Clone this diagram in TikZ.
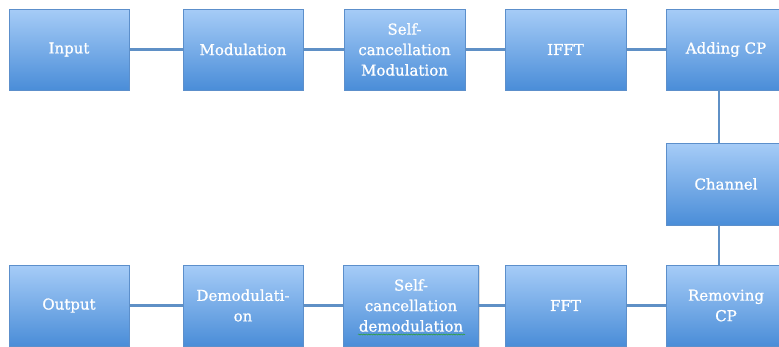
\documentclass[tikz,border=0pt]{standalone}
\usepackage{fontspec}
\setmainfont{DejaVu Serif}
\newfontfamily\boxfont{DejaVu Serif}[FakeBold=0.9]
\usetikzlibrary{shadows,decorations.pathmorphing}
\definecolor{boxtop}{HTML}{A6CCF7}
\definecolor{boxbot}{HTML}{4A8DD8}
\definecolor{boxedge}{HTML}{5C8FCB}
\definecolor{linkc}{HTML}{5F90C6}
\definecolor{squig}{HTML}{2EA02E}
\begin{document}
\begin{tikzpicture}[x=1pt,y=-1pt,
  blk/.style={draw=boxedge, line width=0.9pt, top color=boxtop, bottom color=boxbot,
    minimum width=120pt, minimum height=81pt, inner sep=0pt, text=white, align=center,
    font=\boxfont\fontsize{15}{20.5}\selectfont,
    drop shadow={opacity=0.25, shadow xshift=1pt, shadow yshift=-1pt}},
  link/.style={draw=linkc, line width=2.6pt}]
\path[use as bounding box] (0,0) rectangle (779,346);
\clip (0,0) rectangle (779,346);
% top row
\node[blk] (in)   at (69,49.5)    {Input};
\node[blk] (mod)  at (243,49.5)   {Modulation};
\node[blk, minimum width=121pt] (scm) at (404.5,49.5) {Self-\\cancellation\\Modulation};
\node[blk, minimum width=121pt] (ifft) at (565.5,49.5) {IFFT};
\node[blk] (add)  at (726,49.5)   {Adding CP};
% channel
\node[blk, minimum height=82pt] (chan) at (726,184) {Channel};
% bottom row
\node[blk] (out)  at (69,305.5)   {Output};
\node[blk] (dem)  at (243,305.5)  {Demodulati-\\on};
\node[blk, minimum width=135pt] (scd) at (411,305.5) {Self-\\cancellation\\demodulation};
\node[blk, minimum width=121pt] (fft) at (565.5,305.5) {FFT};
\node[blk] (rem)  at (726,305.5)  {Removing\\CP};
% connectors
\draw[link] (in) -- (mod);
\draw[link] (mod) -- (scm);
\draw[link] (scm) -- (ifft);
\draw[link] (ifft) -- (add);
\draw[link] ([xshift=-7pt]add.south) -- ([xshift=-7pt]chan.north);
\draw[link] ([xshift=-7pt]chan.south) -- ([xshift=-7pt]rem.north);
\draw[link] (rem) -- (fft);
\draw[link] (fft) -- (scd);
\draw[link] (scd) -- (dem);
\draw[link] (dem) -- (out);
% spell-check squiggle
\coordinate (sqa) at (358,334.5);
\coordinate (sqb) at (465,334.5);
\draw[squig, line width=0.5pt, decorate, decoration={snake, amplitude=0.6pt, segment length=2.5pt}] (sqa) -- (sqb);
\end{tikzpicture}
\end{document}
